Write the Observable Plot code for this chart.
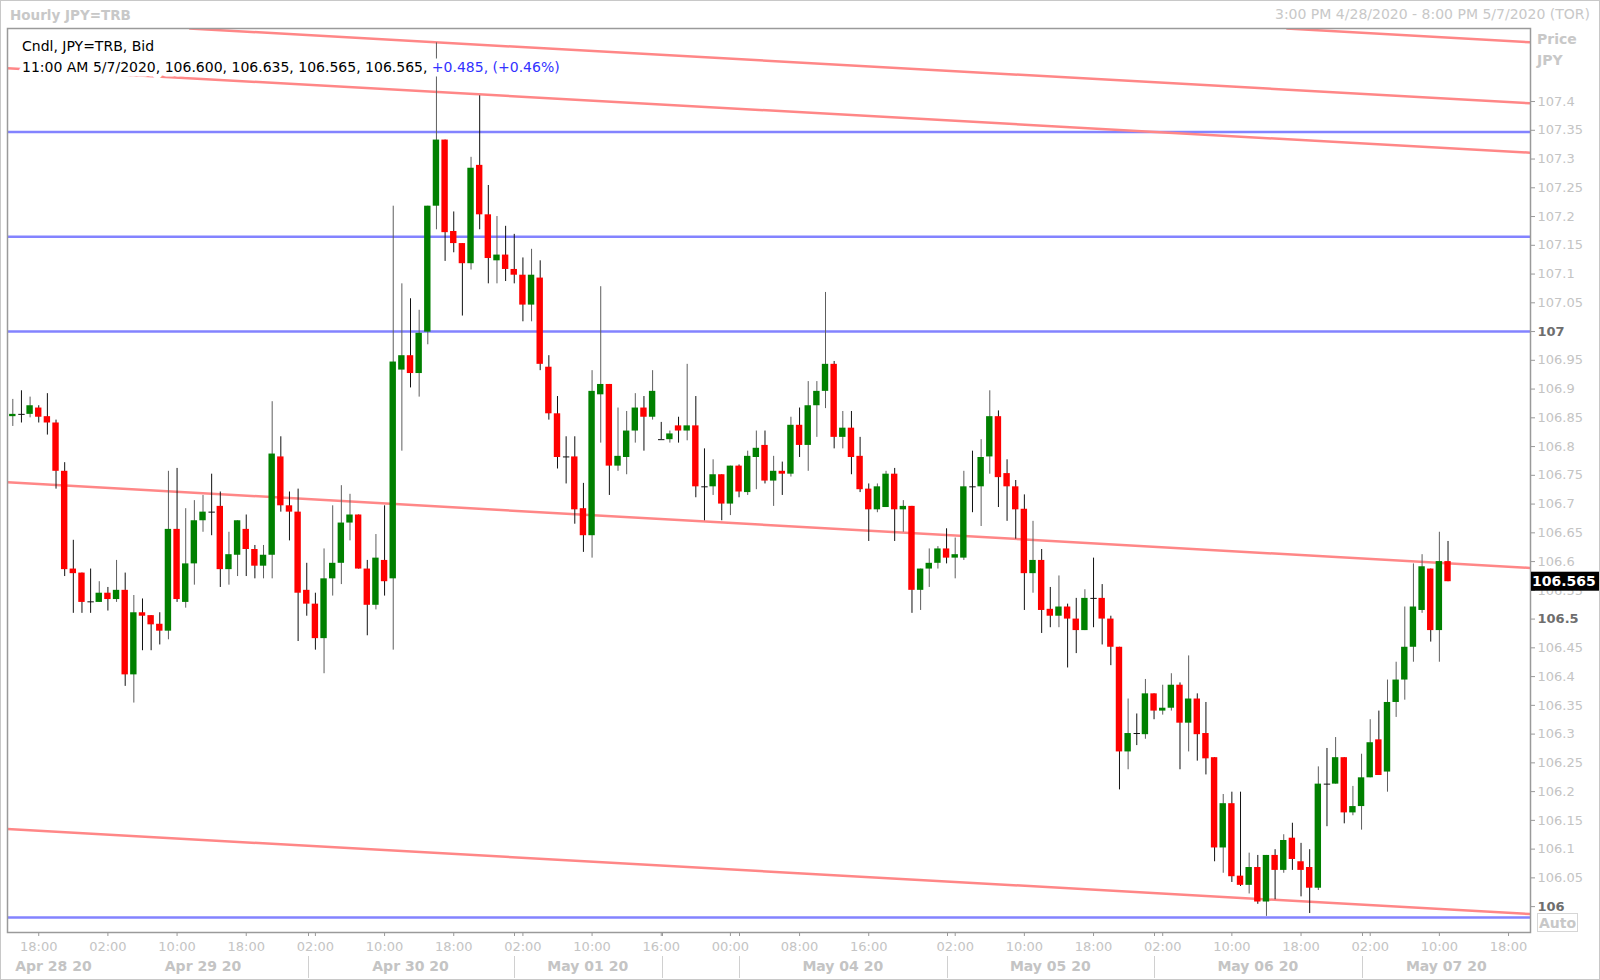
<!DOCTYPE html>
<html><head><meta charset="utf-8">
<script src="https://cdn.jsdelivr.net/npm/d3@7"></script>
<script src="https://cdn.jsdelivr.net/npm/@observablehq/plot@0.6"></script>
<style>
html,body{margin:0;padding:0;background:#fff;}
#chart{width:1600px;height:980px;position:relative;overflow:hidden;}
</style></head>
<body><div id="chart"></div>
<script>
// ---- Hourly JPY=TRB candles, 3:00 PM 4/28/2020 ... 11:00 AM 5/7/2020 (index = candle number) ----
const openP = [
106.852,106.856,106.856,106.867,106.852,106.841,106.757,106.587,106.580,106.530,
106.529,106.545,106.534,106.550,106.403,106.511,106.506,106.491,106.479,106.656,
106.529,106.596,106.671,106.686,106.696,106.586,106.611,106.656,106.621,106.592,
106.611,106.782,106.697,106.686,106.550,106.526,106.466,106.570,106.597,106.667,
106.681,106.587,106.524,106.602,106.570,106.933,106.958,106.927,106.999,107.218,
107.333,107.174,107.153,107.118,107.289,107.203,107.123,107.133,107.108,107.098,
107.046,107.093,106.938,106.857,106.782,106.782,106.692,106.645,106.890,106.908,
106.766,106.781,106.827,106.867,106.851,106.812,106.812,106.836,106.827,106.836,
106.730,106.730,106.751,106.700,106.766,106.720,106.781,106.802,106.740,106.757,
106.752,106.837,106.802,106.871,106.896,106.943,106.816,106.832,106.783,106.726,
106.690,106.694,106.752,106.690,106.696,106.550,106.587,106.597,106.622,106.606,
106.606,106.730,106.730,106.782,106.852,106.753,106.730,106.691,106.579,106.602,
106.517,106.505,106.521,106.500,106.480,106.536,106.536,106.500,106.451,106.269,
106.301,106.299,106.370,106.340,106.345,106.385,106.319,106.361,106.301,106.259,
106.102,106.179,106.053,106.037,106.068,106.008,106.089,106.063,106.119,106.078,
106.068,106.032,106.213,106.213,106.259,106.163,106.174,106.224,106.290,106.234,
106.355,106.394,106.451,106.515,106.587,106.480,106.600];
const highP = [
106.882,106.897,106.886,106.871,106.892,106.846,106.772,106.637,106.580,106.587,
106.565,106.555,106.602,106.580,106.541,106.535,106.506,106.511,106.757,106.762,
106.692,106.706,106.715,106.752,106.721,106.651,106.671,106.681,106.628,106.628,
106.878,106.817,106.721,106.726,106.597,106.545,106.622,106.697,106.732,106.717,
106.681,106.602,106.647,106.697,107.218,107.083,107.057,107.037,107.218,107.502,
107.333,107.208,107.153,107.303,107.410,107.254,107.200,107.183,107.169,107.128,
107.143,107.123,106.958,106.887,106.817,106.817,106.736,106.932,107.078,106.908,
106.867,106.861,106.892,106.887,106.932,106.842,106.827,106.851,106.943,106.887,
106.796,106.777,106.751,106.766,106.768,106.792,106.827,106.827,106.783,106.773,
106.851,106.867,106.913,106.913,107.068,106.948,106.861,106.861,106.816,106.735,
106.735,106.757,106.762,106.706,106.696,106.587,106.622,106.626,106.657,106.641,
106.757,106.792,106.812,106.897,106.862,106.777,106.741,106.716,106.670,106.621,
106.555,106.575,106.526,106.536,106.551,106.606,106.560,106.505,106.451,106.361,
106.335,106.395,106.370,106.385,106.405,106.389,106.436,106.370,106.355,106.259,
106.195,106.199,106.199,106.093,106.089,106.089,106.099,106.125,106.145,106.110,
106.099,106.243,106.275,106.294,106.259,106.209,106.265,106.325,106.340,106.394,
106.425,106.521,106.596,106.612,106.587,106.651,106.635];
const lowP = [
106.835,106.841,106.850,106.841,106.820,106.726,106.574,106.510,106.510,106.510,
106.529,106.514,106.529,106.383,106.354,106.445,106.445,106.455,106.464,106.529,
106.519,106.559,106.651,106.645,106.555,106.559,106.574,106.574,106.570,106.570,
106.570,106.686,106.636,106.461,106.505,106.446,106.405,106.540,106.560,106.636,
106.587,106.471,106.516,106.540,106.446,106.792,106.902,106.886,106.977,107.177,
107.122,107.137,107.027,107.107,107.177,107.083,107.083,107.087,107.083,107.017,
107.017,106.932,106.846,106.761,106.735,106.665,106.616,106.606,106.806,106.715,
106.757,106.751,106.806,106.792,106.846,106.812,106.806,106.806,106.810,106.711,
106.671,106.715,106.671,106.680,106.711,106.715,106.725,106.735,106.696,106.715,
106.747,106.781,106.757,106.816,106.866,106.796,106.796,106.751,106.720,106.635,
106.685,106.694,106.635,106.651,106.510,106.515,106.555,106.587,106.596,106.570,
106.602,106.685,106.661,106.752,106.694,106.670,106.639,106.515,106.545,106.475,
106.485,106.485,106.415,106.440,106.480,106.485,106.455,106.419,106.203,106.238,
106.280,106.291,106.325,106.333,106.340,106.238,106.269,106.253,106.229,106.078,
106.058,106.042,106.035,106.022,106.004,105.983,106.012,106.058,106.063,106.017,
105.988,106.028,106.139,106.213,106.144,106.158,106.133,106.224,106.228,106.199,
106.329,106.359,106.425,106.510,106.460,106.425,106.565];
const closeP = [
106.856,106.856,106.871,106.851,106.841,106.757,106.586,106.579,106.529,106.530,
106.545,106.534,106.550,106.403,106.511,106.505,106.490,106.479,106.656,106.534,
106.596,106.671,106.686,106.686,106.586,106.612,106.671,106.621,106.592,106.611,
106.787,106.697,106.686,106.545,106.526,106.466,106.570,106.597,106.667,106.681,
106.587,106.524,106.606,106.565,106.947,106.958,106.927,106.997,107.218,107.333,
107.172,107.153,107.118,107.284,107.203,107.127,107.133,107.108,107.098,107.046,
107.098,106.943,106.857,106.781,106.782,106.690,106.645,106.896,106.908,106.766,
106.783,106.827,106.867,106.851,106.896,106.812,106.822,106.827,106.836,106.730,
106.730,106.751,106.700,106.766,106.721,106.783,106.797,106.740,106.757,106.752,
106.837,106.802,106.871,106.896,106.943,106.816,106.832,106.781,106.725,106.690,
106.730,106.752,106.690,106.696,106.550,106.587,106.597,106.622,106.606,106.612,
106.730,106.730,106.781,106.852,106.746,106.730,106.690,106.579,106.602,106.515,
106.505,106.521,106.500,106.480,106.536,106.536,106.500,106.451,106.269,106.301,
106.301,106.370,106.340,106.345,106.385,106.319,106.361,106.299,106.257,106.102,
106.179,106.052,106.037,106.068,106.008,106.089,106.063,106.115,106.082,106.063,
106.032,106.213,106.213,106.259,106.163,106.174,106.224,106.285,106.228,106.355,
106.394,106.451,106.521,106.591,106.480,106.600,106.565];

// x-axis ticks (candle index) and their labels
const xTickIdx    = [3,11,19,27,35,43,51,59,67,75,83,91,99,109,117,125,133,141,149,157,165,173];
const xTickLabels = ["18:00","02:00","10:00","18:00","02:00","10:00","18:00","02:00","10:00","16:00","00:00","08:00","16:00","02:00","10:00","18:00","02:00","10:00","18:00","02:00","10:00","18:00"];
// day separators and day labels
const daySepIdx    = [34.2, 58, 75.1, 84, 108.1, 132.1, 156.1];
const dayLabels    = ["Apr 28 20","Apr 29 20","Apr 30 20","May 01 20","May 04 20","May 05 20","May 06 20","May 07 20"];
const dayCenterIdx = [4.7, 22, 46, 66.5, 96, 120, 144, 165.8];
// y ticks
const yTicks = d3.range(0, 29).map(k => +(106 + k * 0.05).toFixed(2));
const yMajor = [106, 106.5, 107];
// horizontal support / resistance lines (blue)
const supportLevels = [107.347, 107.165, 107.0, 105.981];
// sloping channel lines (red): start index/price, end index/price
const chanStartIdx   = [147.3, 20.4, -0.61, -0.61, -0.61];
const chanStartPrice = [107.527, 107.527, 107.458, 106.738, 106.135];
const chanEndIdx     = [175.5, 175.5, 175.5, 175.5, 175.5];
const chanEndPrice   = [107.503, 107.397, 107.311, 106.589, 105.987];

const titleText = "Hourly JPY=TRB";
const rangeText = "3:00 PM 4/28/2020 - 8:00 PM 5/7/2020 (TOR)";
const legend1 = "Cndl, JPY=TRB, Bid";
const legend2a = "11:00 AM 5/7/2020, 106.600, 106.635, 106.565, 106.565, ";
const legend2b = "+0.485, (+0.46%)";

// ---- build tables ----
const candles = openP.map((o, i) => ({i, open: o, high: highP[i], low: lowP[i], close: closeP[i]}));
const upBars = candles.filter(d => d.close > d.open);
const downBars = candles.filter(d => d.close < d.open);
const flatBars = candles.filter(d => d.close === d.open);
const channels = chanStartIdx.map((x1, k) => ({x1, y1: chanStartPrice[k], x2: chanEndIdx[k], y2: chanEndPrice[k]}));
const days = dayLabels.map((t, k) => ({t, c: dayCenterIdx[k]}));
const xLabelMap = new Map(xTickIdx.map((d, k) => [d, xTickLabels[k]]));
const fmtY = d => String(+d.toFixed(2));
const BW = 0.37;
const FONT = "DejaVu Sans";
const LIGHT = "#c4c4c4";

const chart = Plot.plot({
  width: 1600, height: 980,
  marginTop: 28, marginLeft: 7, marginRight: 70, marginBottom: 48,
  x: {domain: [-0.613, 175.54]},
  y: {domain: [105.955, 107.527]},
  style: {background: "white", fontFamily: FONT, fontSize: "13px", overflow: "visible"},
  marks: [
    Plot.ruleY(supportLevels, {stroke: "#8383ff", strokeWidth: 2.5}),
    Plot.link(channels, {x1: "x1", y1: "y1", x2: "x2", y2: "y2", stroke: "#ff8787", strokeWidth: 2.5, clip: true}),
    Plot.ruleX(upBars, {x: "i", y1: "low", y2: "high", stroke: "#5e5e5e", strokeWidth: 1, ariaLabel: "wicks-up"}),
    Plot.ruleX(downBars.concat(flatBars), {x: "i", y1: "low", y2: "high", stroke: "#111", strokeWidth: 1}),
    Plot.rect(upBars, {x1: d => d.i - BW, x2: d => d.i + BW, y1: "open", y2: "close", fill: "#008000"}),
    Plot.rect(downBars, {x1: d => d.i - BW, x2: d => d.i + BW, y1: "open", y2: "close", fill: "#ff0000"}),
    Plot.link(flatBars, {x1: d => d.i - BW, x2: d => d.i + BW, y1: "open", y2: "close", stroke: "#111", strokeWidth: 1}),
    Plot.axisY(yTicks.filter(v => !yMajor.includes(v)), {anchor: "right", tickSize: 4, tickPadding: 3, tickFormat: fmtY, fontSize: 13, fill: LIGHT, stroke: "#9a9a9a"}),
    Plot.axisY(yMajor, {anchor: "right", tickSize: 4, tickPadding: 3, tickFormat: fmtY, fontSize: 13, fontWeight: "bold", fill: "#6e6e6e", stroke: "#9a9a9a"}),
    Plot.axisX(xTickIdx, {anchor: "bottom", tickSize: 4, tickPadding: 5.5, tickFormat: d => xLabelMap.get(d), fontSize: 13, fill: LIGHT, stroke: "#9a9a9a"}),
    Plot.text(days, {x: "c", text: "t", frameAnchor: "bottom", dy: 38, fontWeight: "bold", fontSize: 14, fill: LIGHT}),
    Plot.frame({stroke: "#9a9a9a", strokeWidth: 1.5})
  ]
});
document.getElementById("chart").appendChild(chart);

// ---- decorations positioned through the plot's own scales ----
const svgSel = d3.select(chart);
const sx = chart.scale("x"), sy = chart.scale("y");

// legend (drawn above channel lines, below candles)
const hg = svgSel.insert("g", "g[aria-label='wicks-up']").attr("text-anchor", "start").attr("font-family", FONT);
const halo = sel => sel.attr("paint-order", "stroke").attr("stroke", "white").attr("stroke-width", 9).attr("stroke-linejoin", "round");
hg.append("text").attr("x", 22).attr("y", 46).attr("dy", "0.35em").attr("font-size", 14).attr("fill", "#000").text(legend1).call(halo);
const t2 = hg.append("text").attr("x", 22).attr("y", 67).attr("dy", "0.35em").attr("font-size", 14).call(halo);
t2.append("tspan").attr("fill", "#000").text(legend2a);
t2.append("tspan").attr("fill", "#3232ff").text(legend2b);

const deco = svgSel.append("g").attr("font-family", FONT).attr("text-anchor", "start");
deco.append("rect").attr("x", 0.5).attr("y", 0.5).attr("width", 1599).attr("height", 979).attr("fill", "none").attr("stroke", "#c8c8c8");
deco.append("text").attr("x", 10).attr("y", 15).attr("dy", "0.35em").attr("font-size", 13.5).attr("font-weight", "bold").attr("fill", "#c8c8c8").text(titleText);
deco.append("text").attr("x", 1590).attr("y", 14).attr("dy", "0.35em").attr("text-anchor", "end").attr("font-size", 14).attr("fill", "#c8c8c8").text(rangeText);
deco.append("text").attr("x", 1537).attr("y", 39).attr("dy", "0.35em").attr("font-size", 14).attr("font-weight", "bold").attr("fill", "#c8c8c8").text("Price");
deco.append("text").attr("x", 1537).attr("y", 60).attr("dy", "0.35em").attr("font-size", 14).attr("font-weight", "bold").attr("fill", "#c8c8c8").text("JPY");
const lastClose = closeP[closeP.length - 1];
const lastY = sy.apply(lastClose);
deco.append("rect").attr("x", 1531).attr("y", lastY - 9.5).attr("width", 68).attr("height", 19).attr("fill", "#000");
deco.append("text").attr("x", 1532).attr("y", lastY).attr("dy", "0.36em").attr("font-size", 14).attr("font-weight", "bold").attr("fill", "#fff").text(lastClose.toFixed(3));
deco.append("rect").attr("x", 1537.5).attr("y", 913.5).attr("width", 40).attr("height", 18).attr("fill", "none").attr("stroke", "#d6d6d6");
deco.append("text").attr("x", 1557.5).attr("y", 922.5).attr("dy", "0.36em").attr("text-anchor", "middle").attr("font-size", 14).attr("font-weight", "bold").attr("fill", "#c8c8c8").text("Auto");
daySepIdx.forEach(d => {
  const x = Math.round(sx.apply(d)) + 0.5;
  deco.append("line").attr("x1", x).attr("x2", x).attr("y1", 932).attr("y2", 936).attr("stroke", "#9a9a9a");
  deco.append("line").attr("x1", x).attr("x2", x).attr("y1", 956).attr("y2", 978).attr("stroke", "#d0d0d0");
});
</script>
</body></html>
